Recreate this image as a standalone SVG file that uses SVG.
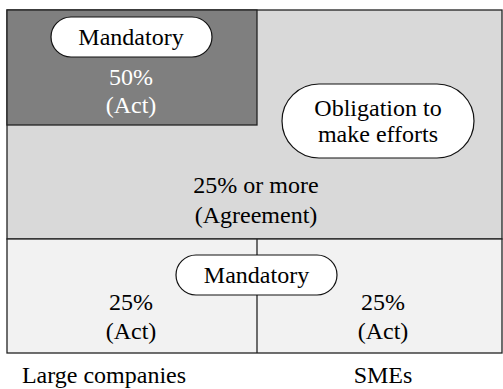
<svg xmlns="http://www.w3.org/2000/svg" width="503" height="389" viewBox="0 0 503 389">
<style>
text{font-family:"Liberation Serif","Times New Roman",serif;font-size:24px;text-anchor:middle;fill:#000}
.w{fill:#fff}
.box{stroke:#222;stroke-width:1.3}
.pill{fill:#fff;stroke:#111;stroke-width:1.2}
</style>
<rect width="503" height="389" fill="#fff"/>
<g id="agreement">
<rect class="box" x="7" y="10" width="495" height="229" fill="#d9d9d9"/>
<text x="256" y="193">25% or more</text>
<text x="256" y="223">(Agreement)</text>
</g>
<g id="act-large">
<rect class="box" x="7" y="10" width="250" height="115" fill="#7f7f7f"/>
<text class="w" x="131" y="85">50%</text>
<text class="w" x="131" y="113">(Act)</text>
</g>
<g id="act-bottom">
<rect class="box" x="7" y="239" width="495" height="114" fill="#f2f2f2"/>
</g>
<g id="connectors">
<line x1="257" y1="239" x2="257" y2="353" stroke="#222" stroke-width="1.3"/>
</g>
<g id="bottom-left">
<text x="131" y="310">25%</text>
<text x="131" y="339">(Act)</text>
</g>
<g id="bottom-right">
<text x="383" y="310">25%</text>
<text x="383" y="339">(Act)</text>
</g>
<g id="mandatory-top">
<rect class="pill" x="51" y="17" width="161" height="40" rx="20"/>
<text x="131" y="45">Mandatory</text>
</g>
<g id="obligation">
<rect class="pill" x="282" y="84" width="192" height="74" rx="37"/>
<text x="378" y="116">Obligation to</text>
<text x="378" y="142">make efforts</text>
</g>
<g id="mandatory-bottom">
<rect class="pill" x="176" y="255" width="161" height="40" rx="20"/>
<text x="256.5" y="283">Mandatory</text>
</g>
<g id="labels">
<text x="104" y="383">Large companies</text>
<text x="383" y="383">SMEs</text>
</g>
</svg>
